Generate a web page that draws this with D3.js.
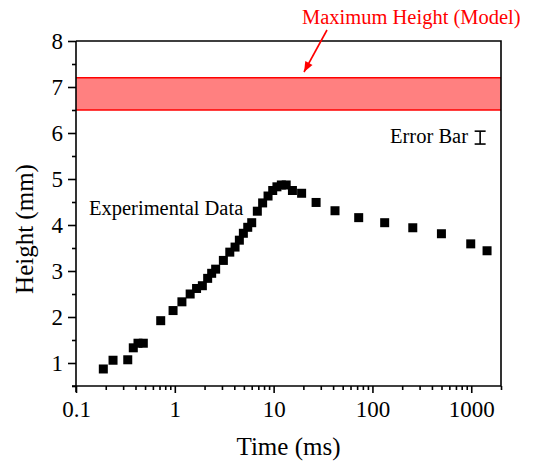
<!DOCTYPE html>
<meta charset="utf-8">
<head>
	<title>Height vs time</title>
</head>

<style>
body { margin: 0; background: #fff; }
svg { display: block; font-family: "Liberation Serif", "Times New Roman", serif; }
.axis path, .axis line { stroke: #000; stroke-width: 1.6; }
</style>

<body>
<svg width="538" height="466"></svg>

<script src="https://cdnjs.cloudflare.com/ajax/libs/d3/7.8.5/d3.min.js"></script>
<script>

var timeMs = [0.189, 0.237, 0.334, 0.38, 0.424, 0.48, 0.72, 0.96, 1.18, 1.43, 1.66, 1.90,
	2.15, 2.36, 2.59, 3.1, 3.6, 4.07, 4.5, 4.94, 5.47, 6.0, 6.84, 7.74, 8.78, 9.79,
	10.8, 11.97, 13.4, 15.5, 19.2, 26.9, 41.8, 72.6, 133, 256, 499, 988, 1445];
var heightMm = [0.87, 1.06, 1.07, 1.33, 1.43, 1.43, 1.92, 2.14, 2.33, 2.50, 2.62, 2.68,
	2.84, 2.95, 3.04, 3.23, 3.41, 3.52, 3.67, 3.82, 3.95, 4.05, 4.30, 4.48, 4.63, 4.75,
	4.83, 4.87, 4.87, 4.75, 4.69, 4.49, 4.31, 4.16, 4.05, 3.94, 3.81, 3.59, 3.44];

// model band
var modelLow = 6.5, modelHigh = 7.2;

// error bar (+/- mm), drawn as a sample near the top right
var errHalf = 0.14;
var errAt = [1230, 5.9];

var xTicks = [0.1, 1, 10, 100, 1000];
var yTicks = [1, 2, 3, 4, 5, 6, 7, 8];

var serif = '"Liberation Serif", "Times New Roman", serif';
var svg = d3.select('svg');
var m = {left: 76, right: 501, top: 41, bottom: 386};

var x = d3.scaleLog().domain([0.1, 2000]).range([m.left, m.right]);
var y = d3.scaleLinear().domain([0.5, 8]).range([m.bottom, m.top]);

// model band
svg.append('rect')
	.attr('x', m.left).attr('width', m.right - m.left)
	.attr('y', y(modelHigh)).attr('height', y(modelLow) - y(modelHigh))
	.attr('fill', '#ff8080');
[modelLow, modelHigh].forEach(function(v){
	svg.append('line')
		.attr('x1', m.left).attr('x2', m.right)
		.attr('y1', y(v)).attr('y2', y(v))
		.attr('stroke', '#ff0000').attr('stroke-width', 1.6);
});

// minor ticks: x every 1..9 per decade, y every 0.5
var xMinor = [];
for (var d = 0.1; d < 2000; d *= 10) {
	for (var k = 2; k <= 9; k++) if (d * k <= 2000) xMinor.push(d * k);
}
var yMinor = d3.range(0.5, 8, 1);

svg.append('g').attr('class', 'axis')
	.attr('transform', 'translate(0,' + m.bottom + ')')
	.call(d3.axisBottom(x).tickValues(xMinor).tickSize(4).tickFormat(''))
	.select('.domain').remove();
var xAxis = svg.append('g').attr('class', 'axis')
	.attr('transform', 'translate(0,' + m.bottom + ')')
	.call(d3.axisBottom(x).tickValues(xTicks).tickSize(7).tickPadding(8)
		.tickFormat(function(d){ return d < 1 ? '0.1' : d3.format('d')(d); }));
xAxis.select('.domain').attr('d', 'M' + (m.left - 4) + ',0H' + m.right);

svg.append('g').attr('class', 'axis')
	.attr('transform', 'translate(' + m.left + ',0)')
	.call(d3.axisLeft(y).tickValues(yMinor).tickSize(4).tickFormat(''))
	.select('.domain').remove();
var yAxis = svg.append('g').attr('class', 'axis')
	.attr('transform', 'translate(' + m.left + ',0)')
	.call(d3.axisLeft(y).tickValues(yTicks).tickSize(8).tickPadding(5));
yAxis.select('.domain').attr('d', 'M0,' + (m.bottom + 6) + 'V' + m.top);

[xAxis, yAxis].forEach(function(g){
	g.selectAll('text')
		.style('font-family', serif)
		.style('font-size', '23px')
		.style('fill', '#000');
});

// top and right frame
svg.append('path')
	.attr('d', 'M' + m.left + ',' + m.top + 'H' + m.right + 'V' + m.bottom)
	.attr('fill', 'none').attr('stroke', '#000').attr('stroke-width', 1.6);

// data points
var pts = timeMs.map(function(t, i){ return [t, heightMm[i]]; });
var s = 9;
svg.append('g').selectAll('rect').data(pts).enter().append('rect')
	.attr('x', function(d){ return x(d[0]) - s / 2; })
	.attr('y', function(d){ return y(d[1]) - s / 2; })
	.attr('width', s).attr('height', s)
	.attr('fill', '#000');

// error bar
var ex = x(errAt[0]);
var eb = svg.append('g').attr('stroke', '#000').attr('stroke-width', 1.6);
eb.append('line').attr('x1', ex).attr('x2', ex)
	.attr('y1', y(errAt[1] + errHalf)).attr('y2', y(errAt[1] - errHalf));
[errAt[1] + errHalf, errAt[1] - errHalf].forEach(function(v){
	eb.append('line').attr('x1', ex - 5.5).attr('x2', ex + 5.5)
		.attr('y1', y(v)).attr('y2', y(v));
});

// annotations
svg.append('text').attr('x', 468).attr('y', 143)
	.attr('text-anchor', 'end').attr('font-size', 20.5).text('Error Bar');
svg.append('text').attr('x', 89).attr('y', 215)
	.attr('font-size', 20.5).text('Experimental Data');
svg.append('text').attr('x', 302).attr('y', 24)
	.attr('font-size', 20.5).attr('fill', '#ff0000').text('Maximum Height (Model)');

// arrow to the band
var a0 = [327, 30], a1 = [304, 72];
svg.append('line')
	.attr('x1', a0[0]).attr('y1', a0[1]).attr('x2', a1[0]).attr('y2', a1[1])
	.attr('stroke', '#ff0000').attr('stroke-width', 1.6);
var ang = Math.atan2(a1[1] - a0[1], a1[0] - a0[0]);
var hl = 11, hw = 0.38;
svg.append('path')
	.attr('d', 'M' + a1[0] + ',' + a1[1] +
		'L' + (a1[0] - hl * Math.cos(ang - hw)) + ',' + (a1[1] - hl * Math.sin(ang - hw)) +
		'L' + (a1[0] - hl * Math.cos(ang + hw)) + ',' + (a1[1] - hl * Math.sin(ang + hw)) + 'Z')
	.attr('fill', '#ff0000');

// axis titles
svg.append('text').attr('x', (m.left + m.right) / 2).attr('y', 455)
	.attr('text-anchor', 'middle').attr('font-size', 25).text('Time (ms)');
svg.append('text').attr('transform', 'translate(33,229) rotate(-90)')
	.attr('text-anchor', 'middle').attr('font-size', 25).text('Height (mm)');

</script>

</body>
</html>
